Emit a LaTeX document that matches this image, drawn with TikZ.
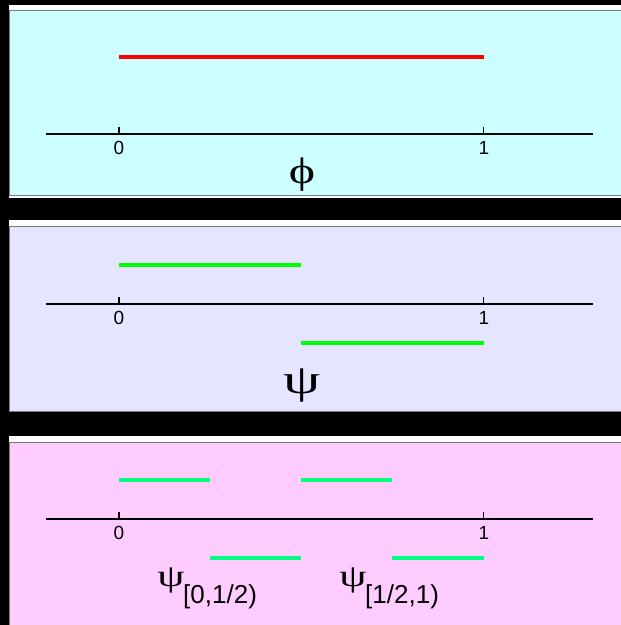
\documentclass[tikz,border=0pt]{standalone}
\usepackage{fontspec}
\setmainfont{Liberation Sans}
\newfontfamily\grk{Liberation Serif}
\definecolor{bgA}{HTML}{CCFFFF}
\definecolor{bgB}{HTML}{E5E5FF}
\definecolor{bgC}{HTML}{FFCCFF}
\definecolor{segA}{HTML}{FF0000}
\definecolor{segB}{HTML}{00FF00}
\definecolor{segC}{HTML}{00FF80}
\definecolor{frameg}{HTML}{7A7A7A}
\tikzset{
  axisline/.style={line width=1.3pt, black},
  seg/.style={line width=4pt},
  ticklbl/.style={font=\fontsize{19}{19}\selectfont, inner sep=0pt},
  greeklbl/.style={inner sep=0pt},
  sublbl/.style={font=\fontsize{26}{26}\selectfont, inner sep=0pt, anchor=west},
}
\newcommand{\panelbox}[4]{%
  \fill[white] (9,#1) rectangle (621,#3);
  \fill[frameg] (9,#1+5.5) rectangle (621,#2+1);
  \fill[#4] (10.3,#1+6.7) rectangle (621,#2);
}
\newcommand{\axisat}[1]{%
  \draw[axisline] (46,#1) -- (593,#1);
  \draw[axisline] (119,#1) -- (119,#1-7);
  \draw[axisline] (483.5,#1) -- (483.5,#1-7);
}
\newcommand{\gk}[3]{\scalebox{#2}[1]{\grk\fontsize{#1}{#1}\selectfont #3}}
\begin{document}
\begin{tikzpicture}[x=1pt,y=-1pt]
\fill[black] (0,0) rectangle (621,625);
\useasboundingbox (0,0) rectangle (621,625);
% panels
\panelbox{4.5}{195}{198}{bgA}
\panelbox{220}{411}{412}{bgB}
\panelbox{436}{626}{626}{bgC}
% panel 1
\axisat{134}
\node[ticklbl] (a0) at (119,148) {0};
\node[ticklbl] (a1) at (484,148) {1};
\coordinate (r1) at (119,57);
\coordinate (r2) at (483.5,57);
\draw[seg, segA] (r1) -- (r2);
\node[greeklbl] (phi) at (302,175) {\gk{37}{1.35}{ϕ}};
% panel 2
\axisat{304}
\node[ticklbl] (b0) at (119,318) {0};
\node[ticklbl] (b1) at (484,318) {1};
\coordinate (g1) at (119,265);
\coordinate (g2) at (301,265);
\coordinate (g3) at (301,343);
\coordinate (g4) at (483.5,343);
\draw[seg, segB] (g1) -- (g2);
\draw[seg, segB] (g3) -- (g4);
\node[greeklbl] (psi) at (302,386) {\gk{41}{1.45}{ψ}};
% panel 3
\axisat{519}
\node[ticklbl] (c0) at (119,533) {0};
\node[ticklbl] (c1) at (484,533) {1};
\coordinate (h1) at (119,480);
\coordinate (h2) at (210,480);
\coordinate (h3) at (210,557.5);
\coordinate (h4) at (301,557.5);
\coordinate (h5) at (301,480);
\coordinate (h6) at (392,480);
\coordinate (h7) at (392,557.5);
\coordinate (h8) at (483.5,557.5);
\draw[seg, segC] (h1) -- (h2);
\draw[seg, segC] (h3) -- (h4);
\draw[seg, segC] (h5) -- (h6);
\draw[seg, segC] (h7) -- (h8);
\node[greeklbl] (psiA) at (171,580.5) {\gk{31}{1.4}{ψ}};
\node[sublbl] (psiAsub) at (183,597) {[0,1/2)};
\node[greeklbl] (psiB) at (353,580.5) {\gk{31}{1.4}{ψ}};
\node[sublbl] (psiBsub) at (365,597) {[1/2,1)};
\end{tikzpicture}
\end{document}
